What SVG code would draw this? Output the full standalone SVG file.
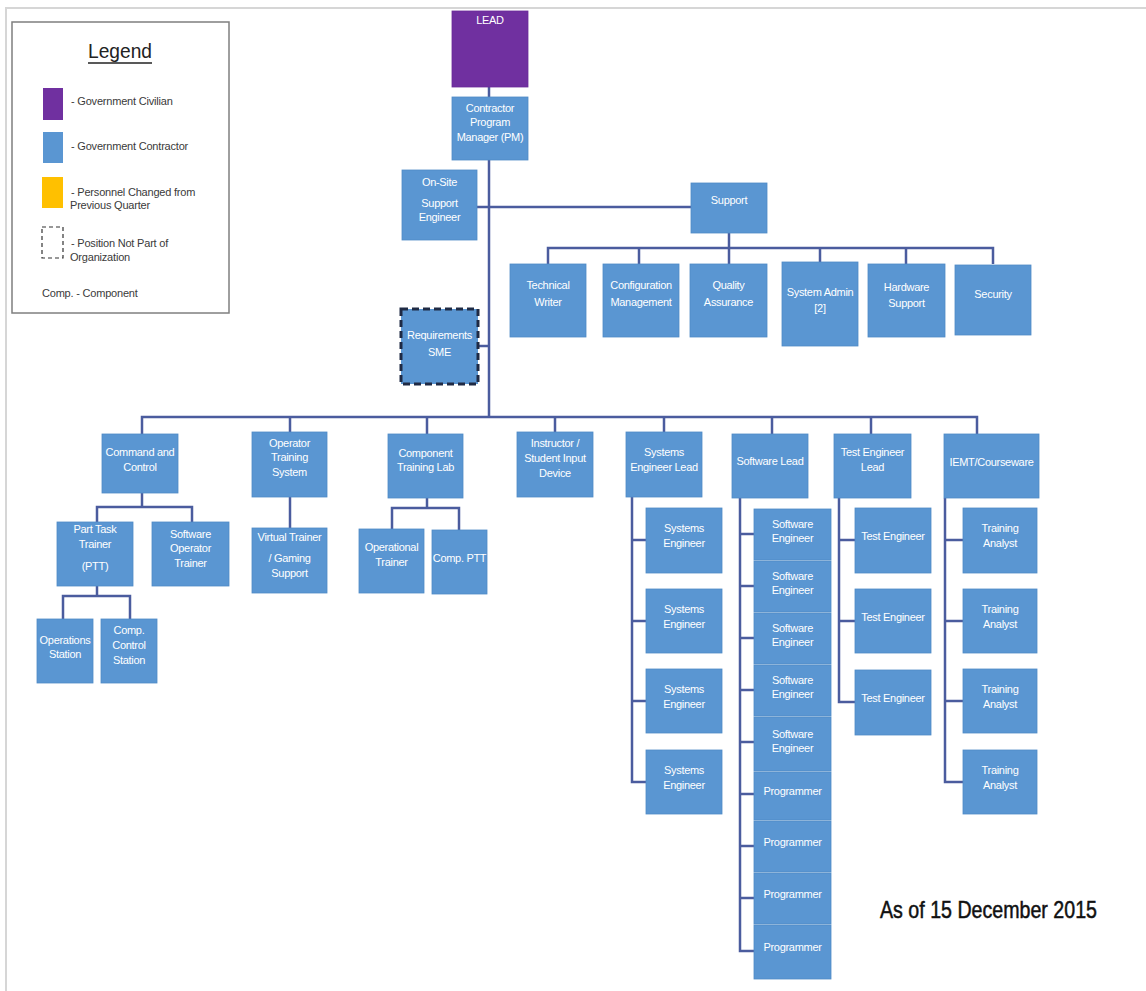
<svg xmlns="http://www.w3.org/2000/svg" width="1146" height="991" viewBox="0 0 1146 991">
  <style>
    .box { fill: #5A96D2; stroke: #4F8AC6; stroke-width: 0.8; }
    .civ { fill: #7030A0; stroke: #6A2C98; stroke-width: 0.8; }
    .t { font-family: "Liberation Sans", Arial, sans-serif; font-size: 11px; letter-spacing: -0.3px; fill: #ffffff; text-anchor: middle; }
    .lg { font-family: "Liberation Sans", Arial, sans-serif; font-size: 11px; letter-spacing: -0.2px; fill: #3a3a3a; }
    .ln { stroke: #4B5C9E; stroke-width: 2.5; fill: none; }
    .frame { stroke: #d6d6d6; stroke-width: 2; fill: none; }
  </style>

  <rect width="1146" height="991" fill="#ffffff"/>
  <!-- page frame -->
  <path class="frame" d="M6 991 V8 H1146"/>

  <!-- legend -->
  <g id="legend">
    <rect x="12" y="22" width="217" height="291" fill="#ffffff" stroke="#7f7f7f" stroke-width="1.5"/>
    <text x="120" y="58" font-family="'Liberation Sans',Arial,sans-serif" font-size="21" fill="#222" text-anchor="middle" textLength="64" lengthAdjust="spacingAndGlyphs">Legend</text>
    <line x1="88" y1="63" x2="152" y2="63" stroke="#222" stroke-width="1.3"/>
    <rect x="43" y="88" width="20" height="32" fill="#7030A0"/>
    <rect x="43" y="132" width="20" height="31" fill="#5A96D2"/>
    <rect x="42" y="177" width="21" height="31" fill="#FFC000"/>
    <rect x="42" y="227" width="21" height="31" fill="none" stroke="#333" stroke-width="1.2" stroke-dasharray="4 3"/>
    <text class="lg" x="71" y="105">- Government Civilian</text>
    <text class="lg" x="71" y="150">- Government Contractor</text>
    <text class="lg" x="71" y="196">- Personnel Changed from</text>
    <text class="lg" x="70" y="209">Previous Quarter</text>
    <text class="lg" x="71" y="247">- Position Not Part of</text>
    <text class="lg" x="70" y="261">Organization</text>
    <text class="lg" x="42" y="297">Comp. - Component</text>
  </g>

  <!-- connectors -->
  <g id="connectors">
    <path class="ln" d="M489 87 V97"/>
    <path class="ln" d="M489 160 V417"/>
    <path class="ln" d="M477 207 H691"/>
    <path class="ln" d="M729 233 V248"/>
    <path class="ln" d="M548 264 V248 H993 V264"/>
    <path class="ln" d="M639 248 V264 M729 248 V264 M820 248 V262 M906 248 V264"/>
    <path class="ln" d="M478 346 H489"/>
    <path class="ln" d="M142 434 V417 H977 V434"/>
    <path class="ln" d="M290 417 V432 M427 417 V434 M555 417 V432 M664 417 V432 M772 417 V434 M871 417 V434"/>
    <!-- Command and Control -->
    <path class="ln" d="M142 493 V507"/>
    <path class="ln" d="M97 522 V507 H192 V522"/>
    <path class="ln" d="M97 586 V596"/>
    <path class="ln" d="M63 619 V596 H130 V619"/>
    <!-- Operator Training System -->
    <path class="ln" d="M290 497 V528"/>
    <!-- Component Training Lab -->
    <path class="ln" d="M427 498 V508"/>
    <path class="ln" d="M392 529 V508 H459 V530"/>
    <!-- Systems Engineer Lead -->
    <path class="ln" d="M632 497 V782 H646 M632 540 H646 M632 621 H646 M632 701 H646"/>
    <!-- Software Lead -->
    <path class="ln" d="M740 498 V951 H754 M740 534 H754 M740 586 H754 M740 638 H754 M740 690 H754 M740 742 H754 M740 794 H754 M740 846 H754 M740 898 H754"/>
    <!-- Test Engineer Lead -->
    <path class="ln" d="M839 498 V702 H855 M839 540 H855 M839 621 H855"/>
    <!-- IEMT/Courseware -->
    <path class="ln" d="M945 498 V782 H963 M945 540 H963 M945 621 H963 M945 701 H963"/>
  </g>

  <g id="lead"><rect class="civ" x="452" y="11" width="76" height="76"/><text class="t" x="490" y="24">LEAD</text></g>
  <g id="pm"><rect class="box" x="452" y="97" width="76" height="63"/><text class="t" x="490" y="112">Contractor<tspan x="490" y="126">Program</tspan><tspan x="490" y="141">Manager  (PM)</tspan></text></g>
  <g id="onsite"><rect class="box" x="402" y="170" width="75" height="70"/><text class="t" x="439.5" y="186">On-Site<tspan x="439.5" y="207">Support</tspan><tspan x="439.5" y="221">Engineer</tspan></text></g>
  <g id="support"><rect class="box" x="691" y="183" width="76" height="50"/><text class="t" x="729" y="204">Support</text></g>

  <g id="techwriter"><rect class="box" x="510" y="264" width="76" height="73"/><text class="t" x="548" y="289">Technical<tspan x="548" y="306">Writer</tspan></text></g>
  <g id="config"><rect class="box" x="603" y="264" width="76" height="73"/><text class="t" x="641" y="289">Configuration<tspan x="641" y="306">Management</tspan></text></g>
  <g id="qa"><rect class="box" x="690" y="264" width="77" height="73"/><text class="t" x="728.5" y="289">Quality<tspan x="728.5" y="306">Assurance</tspan></text></g>
  <g id="sysadmin"><rect class="box" x="782" y="262" width="76" height="84"/><text class="t" x="820" y="296">System Admin<tspan x="820" y="312">[2]</tspan></text></g>
  <g id="hardware"><rect class="box" x="868" y="264" width="77" height="73"/><text class="t" x="906.5" y="291">Hardware<tspan x="906.5" y="307">Support</tspan></text></g>
  <g id="security"><rect class="box" x="955" y="265" width="76" height="70"/><text class="t" x="993" y="298">Security</text></g>

  <g id="reqsme"><rect x="401" y="309" width="77" height="75" fill="#5A96D2" stroke="#1F2A44" stroke-width="3" stroke-dasharray="7 4"/><text class="t" x="439.5" y="339">Requirements<tspan x="439.5" y="356">SME</tspan></text></g>

  <g id="cc"><rect class="box" x="102" y="434" width="76" height="59"/><text class="t" x="140" y="456">Command and<tspan x="140" y="471">Control</tspan></text></g>
  <g id="ots"><rect class="box" x="252" y="432" width="75" height="65"/><text class="t" x="289.5" y="447">Operator<tspan x="289.5" y="461">Training</tspan><tspan x="289.5" y="476">System</tspan></text></g>
  <g id="ctl"><rect class="box" x="388" y="434" width="75" height="64"/><text class="t" x="425.5" y="457">Component<tspan x="425.5" y="471">Training Lab</tspan></text></g>
  <g id="isid"><rect class="box" x="517" y="432" width="76" height="65"/><text class="t" x="555" y="447">Instructor /<tspan x="555" y="462">Student  Input</tspan><tspan x="555" y="477">Device</tspan></text></g>
  <g id="sel"><rect class="box" x="626" y="432" width="76" height="65"/><text class="t" x="664" y="456">Systems<tspan x="664" y="471">Engineer Lead</tspan></text></g>
  <g id="swl"><rect class="box" x="732" y="434" width="76" height="64"/><text class="t" x="770" y="465">Software Lead</text></g>
  <g id="tel"><rect class="box" x="834" y="434" width="77" height="64"/><text class="t" x="872.5" y="456">Test Engineer<tspan x="872.5" y="471">Lead</tspan></text></g>
  <g id="iemt"><rect class="box" x="944" y="434" width="95" height="64"/><text class="t" x="991.5" y="466">IEMT/Courseware</text></g>

  <g id="ptt"><rect class="box" x="57" y="522" width="76" height="64"/><text class="t" x="95" y="533">Part Task<tspan x="95" y="548">Trainer</tspan><tspan x="95" y="570">(PTT)</tspan></text></g>
  <g id="sot"><rect class="box" x="152" y="522" width="77" height="64"/><text class="t" x="190.5" y="538">Software<tspan x="190.5" y="552">Operator</tspan><tspan x="190.5" y="567">Trainer</tspan></text></g>
  <g id="vt"><rect class="box" x="252" y="528" width="75" height="65"/><text class="t" x="289.5" y="541">Virtual Trainer<tspan x="289.5" y="562">/ Gaming</tspan><tspan x="289.5" y="577">Support</tspan></text></g>
  <g id="opt"><rect class="box" x="359" y="529" width="65" height="64"/><text class="t" x="391.5" y="551">Operational<tspan x="391.5" y="566">Trainer</tspan></text></g>
  <g id="cptt"><rect class="box" x="432" y="530" width="55" height="64"/><text class="t" x="459.5" y="562">Comp. PTT</text></g>
  <g id="ops"><rect class="box" x="37" y="619" width="56" height="64"/><text class="t" x="65" y="644">Operations<tspan x="65" y="658">Station</tspan></text></g>
  <g id="ccs"><rect class="box" x="101" y="619" width="56" height="64"/><text class="t" x="129" y="634">Comp.<tspan x="129" y="649">Control</tspan><tspan x="129" y="664">Station</tspan></text></g>

  <g id="se1"><rect class="box" x="646" y="508" width="76" height="65"/><text class="t" x="684" y="532">Systems<tspan x="684" y="547">Engineer</tspan></text></g>
  <g id="se2"><rect class="box" x="646" y="589" width="76" height="64"/><text class="t" x="684" y="613">Systems<tspan x="684" y="628">Engineer</tspan></text></g>
  <g id="se3"><rect class="box" x="646" y="669" width="76" height="64"/><text class="t" x="684" y="693">Systems<tspan x="684" y="708">Engineer</tspan></text></g>
  <g id="se4"><rect class="box" x="646" y="750" width="76" height="64"/><text class="t" x="684" y="774">Systems<tspan x="684" y="789">Engineer</tspan></text></g>

  <g id="sw1"><rect class="box" x="754" y="509" width="77" height="51"/><text class="t" x="792.5" y="528">Software<tspan x="792.5" y="542">Engineer</tspan></text></g>
  <g id="sw2"><rect class="box" x="754" y="561" width="77" height="51"/><text class="t" x="792.5" y="580">Software<tspan x="792.5" y="594">Engineer</tspan></text></g>
  <g id="sw3"><rect class="box" x="754" y="613" width="77" height="51"/><text class="t" x="792.5" y="632">Software<tspan x="792.5" y="646">Engineer</tspan></text></g>
  <g id="sw4"><rect class="box" x="754" y="665" width="77" height="51"/><text class="t" x="792.5" y="684">Software<tspan x="792.5" y="698">Engineer</tspan></text></g>
  <g id="sw5"><rect class="box" x="754" y="717" width="77" height="54"/><text class="t" x="792.5" y="738">Software<tspan x="792.5" y="752">Engineer</tspan></text></g>
  <g id="pg1"><rect class="box" x="754" y="772" width="77" height="48"/><text class="t" x="792.5" y="795">Programmer</text></g>
  <g id="pg2"><rect class="box" x="754" y="821" width="77" height="51"/><text class="t" x="792.5" y="846">Programmer</text></g>
  <g id="pg3"><rect class="box" x="754" y="873" width="77" height="51"/><text class="t" x="792.5" y="898">Programmer</text></g>
  <g id="pg4"><rect class="box" x="754" y="925" width="77" height="54"/><text class="t" x="792.5" y="951">Programmer</text></g>

  <g id="te1"><rect class="box" x="855" y="508" width="76" height="65"/><text class="t" x="893" y="540">Test Engineer</text></g>
  <g id="te2"><rect class="box" x="855" y="589" width="76" height="64"/><text class="t" x="893" y="621">Test Engineer</text></g>
  <g id="te3"><rect class="box" x="855" y="670" width="76" height="65"/><text class="t" x="893" y="702">Test Engineer</text></g>

  <g id="ta1"><rect class="box" x="963" y="508" width="74" height="65"/><text class="t" x="1000" y="532">Training<tspan x="1000" y="547">Analyst</tspan></text></g>
  <g id="ta2"><rect class="box" x="963" y="589" width="74" height="64"/><text class="t" x="1000" y="613">Training<tspan x="1000" y="628">Analyst</tspan></text></g>
  <g id="ta3"><rect class="box" x="963" y="669" width="74" height="64"/><text class="t" x="1000" y="693">Training<tspan x="1000" y="708">Analyst</tspan></text></g>
  <g id="ta4"><rect class="box" x="963" y="750" width="74" height="64"/><text class="t" x="1000" y="774">Training<tspan x="1000" y="789">Analyst</tspan></text></g>

  <text id="date" x="880" y="918" font-family="'Liberation Sans',Arial,sans-serif" font-size="24" fill="#111" stroke="#111" stroke-width="0.5" textLength="217" lengthAdjust="spacingAndGlyphs">As of 15 December 2015</text>
</svg>
